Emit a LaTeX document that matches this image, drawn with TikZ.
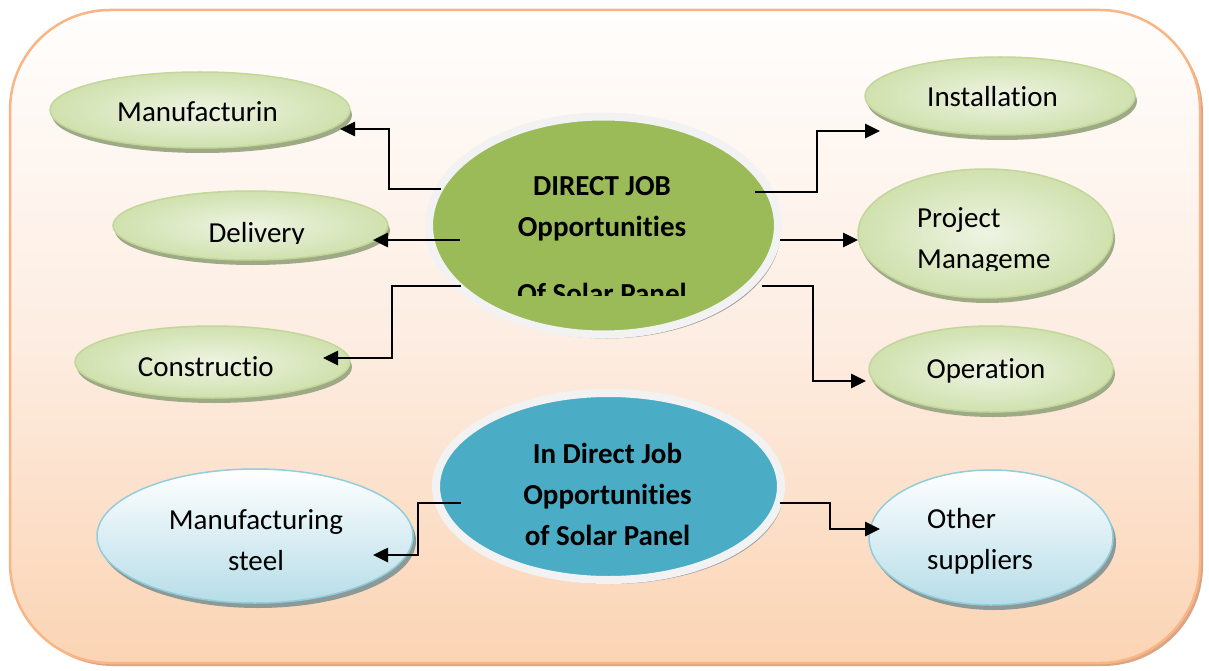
\documentclass[tikz,border=0pt]{standalone}
\usepackage{fontspec}
\setmainfont[Ligatures=NoCommon]{Carlito}
\usetikzlibrary{shapes.geometric,arrows.meta,shadows,calc}
\definecolor{bgtop}{HTML}{FFFEFD}
\definecolor{bgmid}{HTML}{FDEDE2}
\definecolor{bgbot}{HTML}{FBD4B4}
\definecolor{bgline}{HTML}{F9B584}
\definecolor{bgshadow}{HTML}{D9A584}
\definecolor{gfill}{HTML}{9BBB59}
\definecolor{bfill}{HTML}{4BACC6}
\definecolor{ringc}{HTML}{F2F2F2}
\definecolor{ringshadow}{HTML}{A0A0A0}
\definecolor{lgin}{HTML}{EEF4E3}
\definecolor{lgout}{HTML}{D0E1AE}
\definecolor{lgline}{HTML}{C3D69B}
\definecolor{lgshadow}{HTML}{9EA985}
\definecolor{lbbot}{HTML}{B6DDE8}
\definecolor{lbline}{HTML}{92CDDC}
\definecolor{lbshadow}{HTML}{8C9996}
\begin{document}
\begin{tikzpicture}[x=1pt,y=-1pt,
  lbl/.style={font=\fontsize{29}{41}\selectfont, inner sep=0pt, anchor=base},
  blbl/.style={lbl, font=\fontsize{29}{41}\selectfont\bfseries, align=center},
  gsmall/.style={ellipse, inner sep=0pt, draw=lgline, line width=1.5pt,
    inner color=lgin, outer color=lgout,
    drop shadow={shadow xshift=2pt, shadow yshift=-5pt, fill=lgshadow, opacity=1}},
  bsmall/.style={ellipse, inner sep=0pt, draw=lbline, line width=1.5pt,
    top color=white, bottom color=lbbot,
    drop shadow={shadow xshift=3pt, shadow yshift=-5pt, fill=lbshadow, opacity=1}},
  bigell/.style={ellipse, inner sep=0pt, draw=ringc, line width=8pt,
    drop shadow={shadow xshift=3pt, shadow yshift=-4pt, fill=ringshadow, opacity=1}},
  conn/.style={draw=black, line width=2.6pt, -{Triangle[length=15pt,width=14pt]}}
]
\useasboundingbox (0,0) rectangle (1209,671);
% background panel
\path[draw=bgline, line width=2.5pt, rounded corners=100pt,
  top color=bgtop, bottom color=bgbot, middle color=bgmid,
  drop shadow={shadow xshift=3pt, shadow yshift=-3pt, fill=bgshadow, opacity=1}]
  (10,10) rectangle (1200,663);

% small green ellipses
\node[gsmall, minimum width=300pt, minimum height=76pt] (man) at (200,110) {};
\node[gsmall, minimum width=275pt, minimum height=69pt] (del) at (250.5,225.5) {};
\node[gsmall, minimum width=275pt, minimum height=72pt] (con) at (212.5,362) {};
\node[gsmall, minimum width=270pt, minimum height=78pt] (inst) at (1000,96) {};
\node[gsmall, minimum width=255pt, minimum height=129pt] (proj) at (985.5,233.5) {};
\node[gsmall, minimum width=244pt, minimum height=86pt] (oper) at (991,369) {};
% small blue ellipses
\node[bsmall, minimum width=316pt, minimum height=134pt] (steel) at (255,536) {};
\node[bsmall, minimum width=244pt, minimum height=135pt] (other) at (991,537.5) {};
% central ellipses
\node[bigell, fill=gfill, minimum width=349pt, minimum height=218pt] (main) at (603.5,225.5) {};
\node[bigell, fill=bfill, minimum width=345pt, minimum height=187pt] (bmain) at (608.5,486.5) {};

% labels
\node[lbl] (tman) at (197.5,122) {Manufacturin};
\begin{scope}
  \clip (100,150) rectangle (420,243);
  \node[lbl] (tdel) at (256.7,242) {Delivery};
\end{scope}
\node[lbl] (tcon) at (205.8,376) {Constructio};
\node[lbl] (tinst) at (992.5,107) {Installation};
\begin{scope}
  \clip (880,180) rectangle (1110,270);
  \node[lbl, anchor=base west, align=left] (tproj) at (917,268) {Project\\Manageme};
\end{scope}
\node[lbl] (toper) at (986,378) {Operation};
\node[lbl, align=center] (tsteel) at (256,570) {Manufacturing\\steel};
\node[lbl, anchor=base west, align=left] (tother) at (927,569) {Other\\suppliers};
\begin{scope}
  \clip (440,120) rectangle (780,295);
  \node[blbl] (tmain) at (602,303) {DIRECT JOB\\Opportunities\\[26pt]Of Solar Panel};
\end{scope}
\node[blbl] (tbmain) at (607.5,545) {In Direct Job\\Opportunities\\of Solar Panel};

% connectors
\coordinate (a1) at (441,189); \coordinate (t1) at (340,129);
\coordinate (a2) at (460,240); \coordinate (t2) at (373,240);
\coordinate (a3) at (461,286); \coordinate (t3) at (323,358);
\coordinate (a4) at (755,192); \coordinate (t4) at (880,131);
\coordinate (a5) at (780,240); \coordinate (t5) at (858,240);
\coordinate (a6) at (762,286); \coordinate (t6) at (866,381);
\coordinate (a7) at (461,503); \coordinate (t7) at (373,555);
\coordinate (a8) at (780,503); \coordinate (t8) at (880,529);
\draw[conn] (a1) -- ++(-52,0) |- (t1);
\draw[conn] (a2) -- (t2);
\draw[conn] (a3) -- ++(-69,0) |- (t3);
\draw[conn] (a4) -- ++(62,0) |- (t4);
\draw[conn] (a5) -- (t5);
\draw[conn] (a6) -- ++(51,0) |- (t6);
\draw[conn] (a7) -- ++(-43,0) |- (t7);
\draw[conn] (a8) -- ++(50,0) |- (t8);
\end{tikzpicture}
\end{document}
